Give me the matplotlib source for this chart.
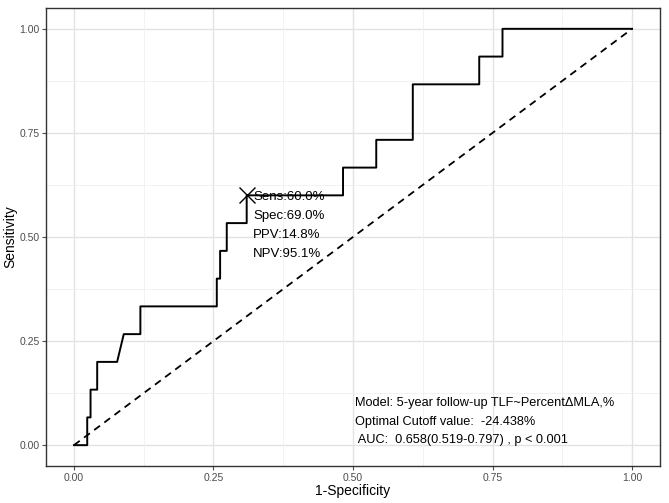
import matplotlib.pyplot as plt

plt.rcParams['font.family'] = ['Liberation Sans', 'DejaVu Sans']

# ROC path: false positives out of 168 negatives, true positives out of 15 positives
n_neg = 168
n_pos = 15
fp_counts = [0, 4, 4, 5, 5, 7, 7, 13, 15, 20, 20, 43, 43, 44, 44, 46, 46, 52, 52,
             81, 81, 91, 91, 102, 102, 122, 122, 129, 129, 168]
tp_counts = [0, 0, 1, 1, 2, 2, 3, 3, 4, 4, 5, 5, 6, 6, 7, 7, 8, 8, 9,
             9, 10, 10, 11, 11, 13, 13, 14, 14, 15, 15]

cutoff_fpr = 52 / 168
cutoff_tpr = 9 / 15
cutoff_lines = ["Sens:60.0%", "Spec:69.0%", "PPV:14.8%", "NPV:95.1%"]
model_lines = ["Model: 5-year follow-up TLF~Percent\u0394MLA,%",
               "Optimal Cutoff value:  -24.438%",
               " AUC:  0.658(0.519-0.797) , p < 0.001"]

ticks = [0.0, 0.25, 0.5, 0.75, 1.0]
tick_labels = ["0.00", "0.25", "0.50", "0.75", "1.00"]

fpr = [v / n_neg for v in fp_counts]
tpr = [v / n_pos for v in tp_counts]

fig = plt.figure(figsize=(6.69, 5.03), dpi=100)
ax = fig.add_axes([0.0688, 0.0736, 0.9177, 0.9105])

# grid like theme_bw
for t in ticks:
    ax.axvline(t, color='#e3e3e3', lw=1.0, zorder=0)
    ax.axhline(t, color='#e3e3e3', lw=1.0, zorder=0)
for t in [0.125, 0.375, 0.625, 0.875]:
    ax.axvline(t, color='#f0f0f0', lw=0.6, zorder=0)
    ax.axhline(t, color='#f0f0f0', lw=0.6, zorder=0)

ax.plot([0, 1], [0, 1], color='black', lw=1.3, ls=(0, (4, 3)), zorder=2)
ax.plot(fpr, tpr, color='black', lw=1.4, zorder=3)
ax.plot([cutoff_fpr], [cutoff_tpr], marker='x', color='black', ms=11, mew=1.0, zorder=4)

for i, s in enumerate(cutoff_lines):
    ax.text(0.321, 0.596 - i * 0.0455, s, fontsize=9.5, va='center', ha='left', zorder=5)
for i, s in enumerate(model_lines):
    ax.text(0.504, 0.101 - i * 0.0445, s, fontsize=9.2, va='center', ha='left', zorder=5)

ax.set_xlim(-0.05, 1.05)
ax.set_ylim(-0.05, 1.05)
ax.set_xticks(ticks)
ax.set_xticklabels(tick_labels)
ax.set_yticks(ticks)
ax.set_yticklabels(tick_labels)
ax.tick_params(labelsize=7.5, colors='#4d4d4d', length=2.7, width=0.8, pad=2)
for sp in ax.spines.values():
    sp.set_color('#333333')
    sp.set_linewidth(1.0)

ax.set_xlabel("1-Specificity", fontsize=10)
ax.set_ylabel("Sensitivity", fontsize=10)
ax.xaxis.set_label_coords(0.5, -0.039)
ax.yaxis.set_label_coords(-0.047, 0.5)

fig.savefig("out.png", dpi=100)
